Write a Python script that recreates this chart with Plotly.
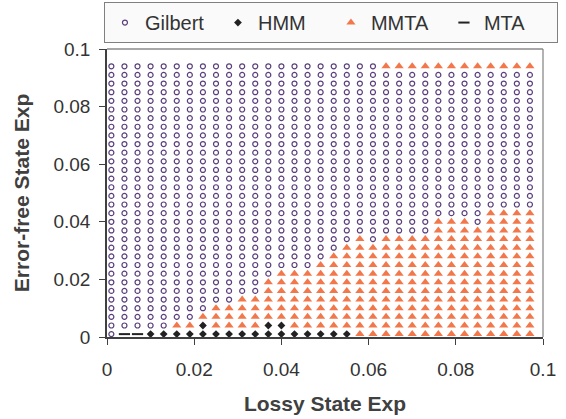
import plotly.graph_objects as go

# Grid coordinates (Lossy State Exp on x, Error-free State Exp on y)
lossy_exp = [0.001, 0.004, 0.007, 0.010, 0.013, 0.016, 0.019, 0.022, 0.025, 0.028,
             0.031, 0.034, 0.037, 0.040, 0.043, 0.046, 0.049, 0.052, 0.055, 0.058,
             0.061, 0.064, 0.067, 0.070, 0.073, 0.076, 0.079, 0.082, 0.085, 0.088,
             0.091, 0.094, 0.097]
errfree_exp = [0.001, 0.004, 0.007, 0.010, 0.013, 0.016, 0.019, 0.022, 0.025, 0.028,
               0.031, 0.034, 0.037, 0.040, 0.043, 0.046, 0.049, 0.052, 0.055, 0.058,
               0.061, 0.064, 0.067, 0.070, 0.073, 0.076, 0.079, 0.082, 0.085, 0.088,
               0.091, 0.094, 0.097]

# Best model per cell, top row first: o=Gilbert, d=HMM, a=MMTA, -=MTA
best_model_rows_top_down = [
    "oooooooooooooooooooooaaaaaaaaaaaa",  # 0.097
    "ooooooooooooooooooooooooooooooooo",
    "ooooooooooooooooooooooooooooooooo",
    "ooooooooooooooooooooooooooooooooo",
    "ooooooooooooooooooooooooooooooooo",
    "ooooooooooooooooooooooooooooooooo",
    "ooooooooooooooooooooooooooooooooo",
    "ooooooooooooooooooooooooooooooooo",
    "ooooooooooooooooooooooooooooooooo",
    "ooooooooooooooooooooooooooooooooo",
    "ooooooooooooooooooooooooooooooooo",
    "ooooooooooooooooooooooooooooooooo",
    "ooooooooooooooooooooooooooooooooo",
    "ooooooooooooooooooooooooooooooooo",
    "ooooooooooooooooooooooooooooooooo",
    "ooooooooooooooooooooooooooooooooo",
    "ooooooooooooooooooooooooooooooooo",  # 0.046
    "oooooooooooooooooooooooooooooaaaa",  # 0.043
    "oooooooooooooooooooooooooaaaoaaaa",  # 0.040
    "oooooooooooooooooooooooooaaaaaaaa",  # 0.037
    "oooooooooooooooooooaoaaaaaaaaaaaa",  # 0.034
    "ooooooooooooooooooaaaaaaaaaaaaaaa",  # 0.031
    "oooooooooooooooooaaaaaaaaaaaaaaaa",  # 0.028
    "ooooooooooooooooaaaaaaaaaaaaaaaaa",  # 0.025
    "oooooooooooooaaaaaaaaaaaaaaaaaaaa",  # 0.022
    "ooooooooooooaaaaaaaaaaaaaaaaaaaaa",  # 0.019
    "ooooooooooooaaaaaaaaaaaaaaaaaaaaa",  # 0.016
    "ooooooooooaaaaaaaaaaaaaaaaaaaaaaa",  # 0.013
    "ooooooooaaaaaaaaaaaaaaaaaaaaaaaaa",  # 0.010
    "oooooooaaaaaaaaaaaaaaaaaaaaaaaaaa",  # 0.007
    "oooooaadaaaaddaaaaaaaaaaaaaaaaaaa",  # 0.004
    "o--ddddddddddddddddaaaaaaaaaaaaaa",  # 0.001
]
rows_bottom_up = best_model_rows_top_down[::-1]

series_names = ["Gilbert", "HMM", "MMTA", "MTA"]
series_codes = ["o", "d", "a", "-"]

x_ticks = [0, 0.02, 0.04, 0.06, 0.08, 0.1]
x_tick_text = ["0", "0.02", "0.04", "0.06", "0.08", "0.1"]
y_ticks = [0, 0.02, 0.04, 0.06, 0.08, 0.1]
y_tick_text = ["0", "0.02", "0.04", "0.06", "0.08", "0.1"]

styles = {
    "o": dict(symbol="circle-open", size=5, color="#5a3f7c", line=dict(width=1.2, color="#5a3f7c")),
    "d": dict(symbol="diamond", size=6, color="#222222", line=dict(width=0)),
    "a": dict(symbol="triangle-up", size=8, color="#f2784b", line=dict(width=0)),
    "-": dict(symbol="line-ew", size=8, color="#222222", line=dict(width=2, color="#222222")),
}

fig = go.Figure()
for name, code in zip(series_names, series_codes):
    xs, ys = [], []
    for j, row in enumerate(rows_bottom_up):
        for i, c in enumerate(row):
            if c == code:
                xs.append(lossy_exp[i])
                ys.append(errfree_exp[j])
    fig.add_trace(go.Scatter(x=xs, y=ys, mode="markers", name=name,
                             marker=styles[code], cliponaxis=False))

font_family = "Arial, Liberation Sans, sans-serif"
fig.update_layout(
    width=566, height=419,
    margin=dict(l=107, r=23, t=49, b=82, autoexpand=False),
    paper_bgcolor="white", plot_bgcolor="white",
    font=dict(family=font_family, size=19, color="#333333"),
    showlegend=True,
    legend=dict(orientation="h", x=-0.007, xanchor="left", y=1.163, yanchor="top",
                bgcolor="#fafafa", bordercolor="#808080", borderwidth=1,
                font=dict(size=20, color="#333333"), entrywidth=68,
                itemwidth=30, tracegroupgap=0),
    xaxis=dict(range=[0, 0.1], tickvals=x_ticks, ticktext=x_tick_text,
               ticks="outside", ticklen=6, tickwidth=1.3, tickcolor="#404040",
               showgrid=False, zeroline=False, showline=True, linecolor="#404040", linewidth=1.5,
               ticklabelstandoff=8,
               title=dict(text="<b>Lossy State Exp</b>", font=dict(size=21, color="#404040"), standoff=18)),
    yaxis=dict(range=[0, 0.1], tickvals=y_ticks, ticktext=y_tick_text,
               ticks="outside", ticklen=6, tickwidth=1.3, tickcolor="#404040",
               showgrid=False, zeroline=False, showline=True, linecolor="#404040", linewidth=1.5,
               ticklabelstandoff=5,
               title=dict(text="<b>Error-free State Exp</b>", font=dict(size=21, color="#404040"), standoff=18)),
    shapes=[
        dict(type="line", xref="paper", yref="paper", x0=0, x1=1, y0=1, y1=1,
             line=dict(color="#8a8a8a", width=1.3)),
        dict(type="line", xref="paper", yref="paper", x0=1, x1=1, y0=0, y1=1,
             line=dict(color="#8a8a8a", width=1.3)),
    ],
)

fig.write_html("out.html", config={"displayModeBar": False},
               post_script="document.body.style.margin='0';")
